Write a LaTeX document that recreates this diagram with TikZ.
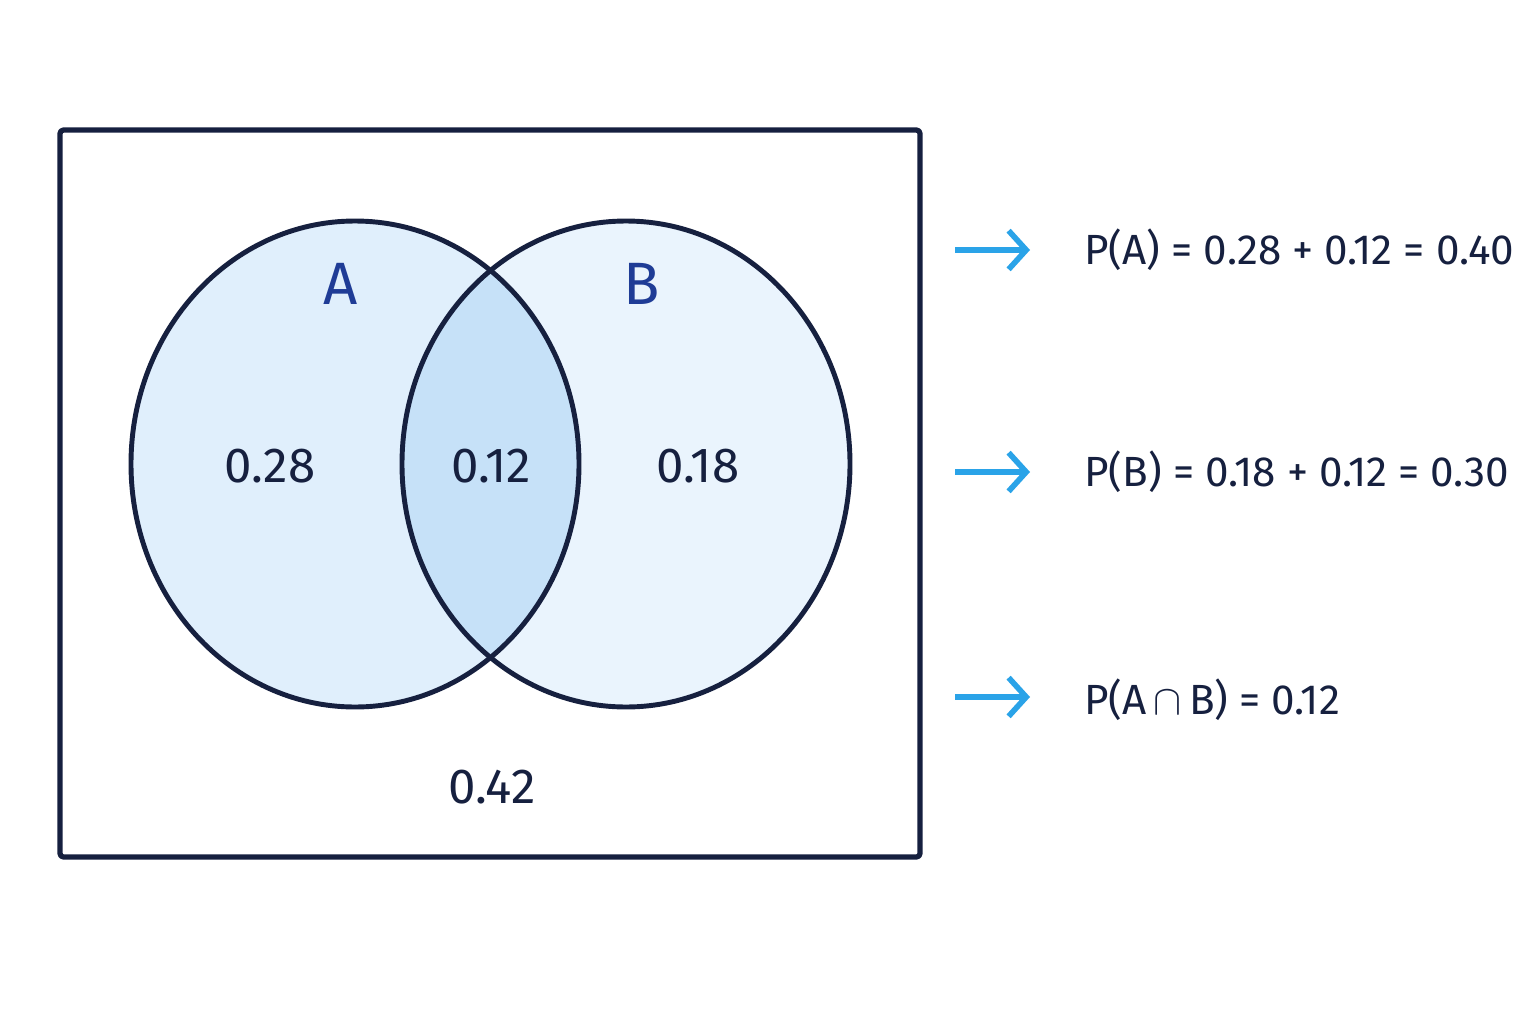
\documentclass[tikz,border=0pt]{standalone}
\usepackage{fontspec}
\setmainfont{Fira Sans}
\usetikzlibrary{arrows.meta,positioning}
\definecolor{navy}{HTML}{16203F}
\definecolor{setblue}{HTML}{1F3C96}
\definecolor{fillA}{HTML}{E0EFFC}
\definecolor{fillB}{HTML}{EAF4FD}
\definecolor{fillAB}{HTML}{C6E1F8}
\definecolor{arrowblue}{HTML}{2AA3E8}
\tikzset{
  num/.style={font=\fontsize{14}{17}\selectfont, text=navy},
  setlabel/.style={font=\fontsize{17}{20}\selectfont, text=setblue},
  prob/.style={font=\fontsize{12}{14}\selectfont, text=navy, anchor=west},
  pointer/.style={-{Straight Barb[length=5pt,width=11pt]}, arrowblue, line width=1.6pt}
}
\begin{document}
\begin{tikzpicture}[x=0.01cm,y=-0.01cm, line join=round]
\useasboundingbox[fill=white] (0,0) rectangle (1536,1024);
\draw[navy, line width=1.5pt, rounded corners=1pt] (60,130) rectangle (920,857);
\fill[fillA] (355,464) ellipse [x radius=224, y radius=243];
\fill[fillB] (626,464) ellipse [x radius=224, y radius=243];
\begin{scope}
  \clip (355,464) ellipse [x radius=224, y radius=243];
  \fill[fillAB] (626,464) ellipse [x radius=224, y radius=243];
\end{scope}
\draw[navy, line width=1.4pt] (355,464) ellipse [x radius=224, y radius=243];
\draw[navy, line width=1.4pt] (626,464) ellipse [x radius=224, y radius=243];
% labels
\node[setlabel] (lA) at (341,284) {A};
\node[setlabel] (lB) at (642,284) {B};
\node[num] (onlyA) at (270,466) {0.28};
\node[num] (both) at (491,466) {0.12};
\node[num] (onlyB) at (698,466) {0.18};
\node[num] (none) at (492,787) {0.42};
% formulas
\coordinate (s1) at (955,250);
\coordinate (s2) at (955,472);
\coordinate (s3) at (955,697);
\node[prob] (pA) at (1072,250) {P(A) = 0.28 + 0.12 = 0.40};
\node[prob] (pB) at (1072,472) {P(B) = 0.18 + 0.12 = 0.30};
\node[prob] (pAB) at (1072,700) {P(A\,$\cap$\,B) = 0.12};
\foreach \s/\t in {s1/pA,s2/pB,s3/pAB}
  \draw[pointer] (\s) -- ++(75,0);
\end{tikzpicture}
\end{document}
